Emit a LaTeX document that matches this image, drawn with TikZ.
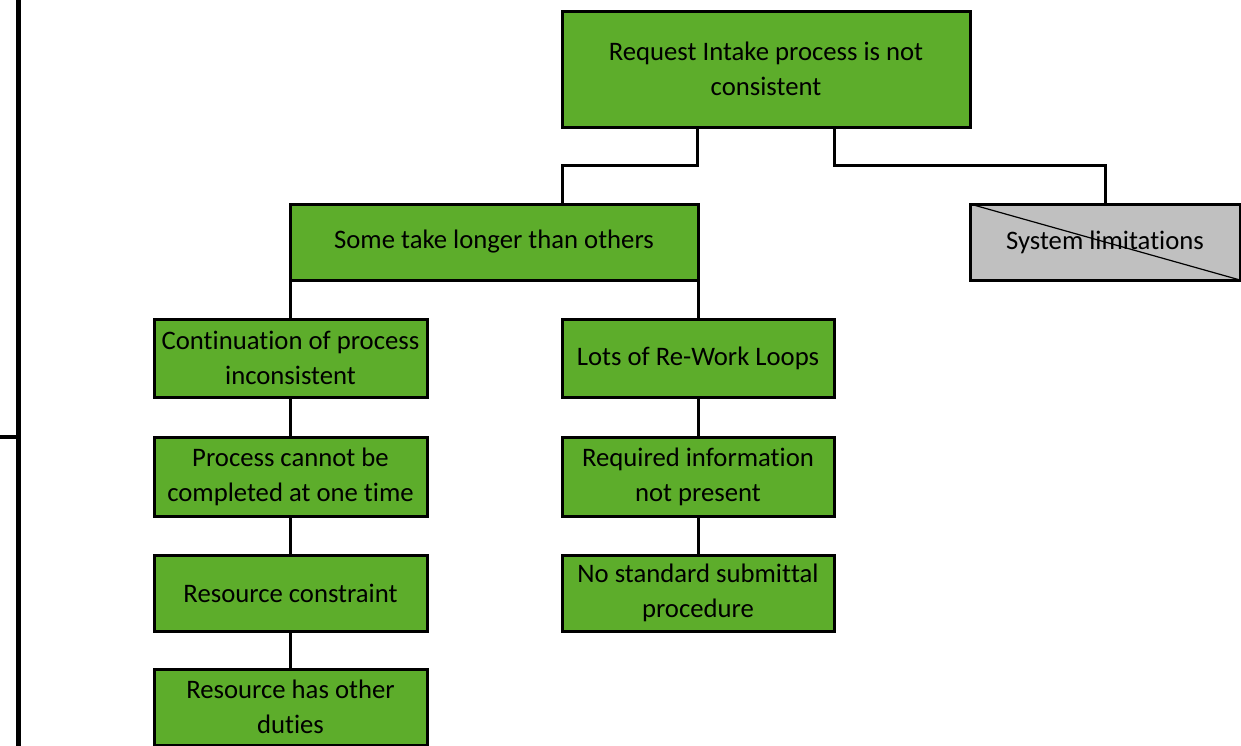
\documentclass[tikz,border=0pt]{standalone}
\usepackage{fontspec}
\setmainfont[Ligatures={NoCommon,NoRare,NoContextual}]{Carlito}
\usetikzlibrary{calc}
\definecolor{boxgreen}{HTML}{5DAD2B}
\definecolor{boxgray}{HTML}{C0C0C0}
\newcommand{\nolig}{\kern0pt }
\begin{document}
\begin{tikzpicture}[x=1pt,y=-1pt,
  box/.style={draw=black, line width=3pt, fill=boxgreen, inner sep=0pt, outer sep=0pt, align=center,
    font=\fontsize{26.7}{35}\selectfont, text=black},
  graybox/.style={box, fill=boxgray},
  link/.style={draw=black, line width=3pt, line join=miter},
  frame/.style={draw=black, line width=5pt}]
\useasboundingbox (0,0) rectangle (1241,745);
\fill[white] (0,0) rectangle (1241,745);
% left frame line
\coordinate (ft) at (18,-5);
\coordinate (fb) at (18,750);
\coordinate (fm) at (18,437);
\coordinate (fl) at (-5,437);
\draw[frame] (ft) -- (fb);
\draw[frame, line width=4pt] (fl) -- (fm);
% boxes
\node[box, minimum width=408pt, minimum height=116pt] (top) at (766,69) {Request Intake process is not\\consistent};
\node[box, minimum width=408pt, minimum height=76pt] (some) at (494,242) {Some take longer than others};
\node[graybox, minimum width=270pt, minimum height=76pt] (sys) at (1105,242) {System limitat\nolig ions};
\draw[line width=1.2pt] (sys.north west) -- (sys.south east);
\node[box, minimum width=273pt, minimum height=78pt] (cont) at (290.5,358) {Cont\nolig inuat\nolig ion of process\\inconsistent};
\node[box, minimum width=272pt, minimum height=78pt] (lots) at (698,358) {Lots of Re-Work Loops};
\node[box, minimum width=273pt, minimum height=79pt] (proc) at (290.5,476.5) {Process cannot be\\completed at one t\nolig ime};
\node[box, minimum width=272pt, minimum height=79pt] (req) at (698,476.5) {Required informat\nolig ion\\not present};
\node[box, minimum width=273pt, minimum height=76pt] (rc) at (290.5,593) {Resource constraint};
\node[box, minimum width=272pt, minimum height=76pt] (nostd) at (698,593) {No standard submit\nolig tal\\procedure};
\node[box, minimum width=273pt, minimum height=76pt] (rod) at (290.5,707) {Resource has other\\dut\nolig ies};
% connectors
\coordinate (t1) at ($(top.south west)!0.3333!(top.south east)$);
\coordinate (t2) at ($(top.south west)!0.6667!(top.south east)$);
\coordinate (s1) at ($(some.north west)!0.6667!(some.north east)$);
\coordinate (mid) at ($(top.south)!0.5!(some.north)$);
\draw[link] (t1) -- (t1 |- mid) -| (s1);
\draw[link] (t2) -- (t2 |- mid) -| (sys.north);
\draw[link] (cont.north |- some.south) -- (cont.north);
\draw[link] (lots.north |- some.south) -- (lots.north);
\draw[link] (cont.south) -- (proc.north);
\draw[link] (proc.south) -- (rc.north);
\draw[link] (rc.south) -- (rod.north);
\draw[link] (lots.south) -- (req.north);
\draw[link] (req.south) -- (nostd.north);
\end{tikzpicture}
\end{document}
